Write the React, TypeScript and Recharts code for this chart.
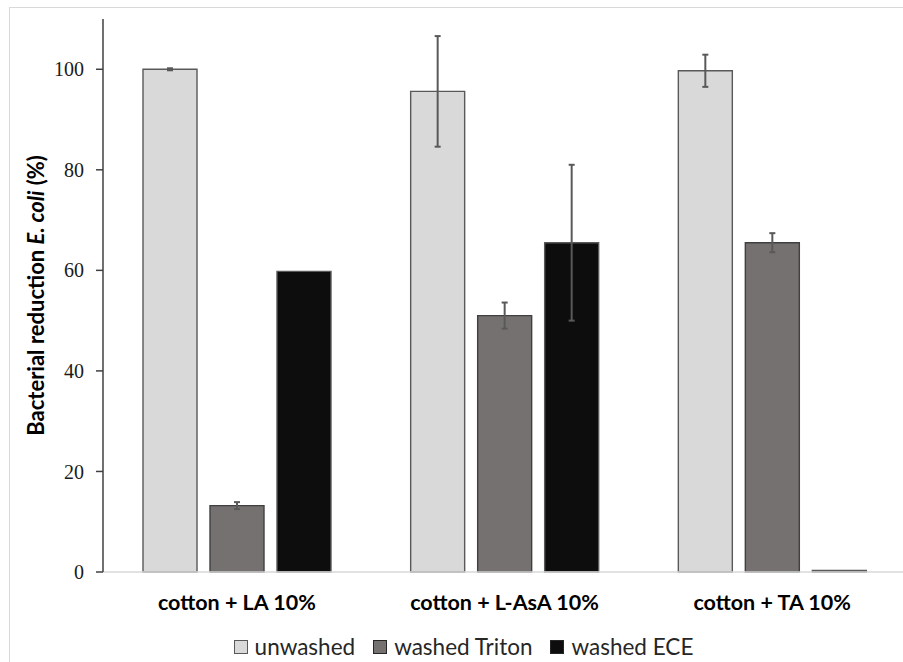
import React from 'react';
import { BarChart, Bar, XAxis, YAxis, ErrorBar, Legend } from 'recharts';

const categories = ['cotton + LA 10%', 'cotton + L-AsA 10%', 'cotton + TA 10%'];
const unwashed = [100, 95.6, 99.7];
const unwashedErr = [0.2, 11, 3.2];
const washedTriton = [13.2, 51, 65.5];
const washedTritonErr = [0.7, 2.6, 1.9];
const washedEce = [59.8, 65.5, 0.3];
const washedEceErr = [0, 15.5, 0];
const yTicks = [0, 20, 40, 60, 80, 100];

const series = [
  { key: 'unwashed', name: 'unwashed', fill: '#d9d9d9', stroke: '#595959', box: '#595959' },
  { key: 'triton', name: 'washed Triton', fill: '#767171', stroke: '#404040', box: '#262626' },
  { key: 'ece', name: 'washed ECE', fill: '#0d0d0d', stroke: '#595959', box: '#262626' },
];

const data = categories.map((name, i) => ({
  name,
  unwashed: unwashed[i],
  unwashedErr: unwashedErr[i],
  triton: washedTriton[i],
  tritonErr: washedTritonErr[i],
  ece: washedEce[i],
  eceErr: washedEceErr[i],
}));

const sans = 'Lato, "Open Sans", sans-serif';

const CategoryTick = (props: any) => {
  const { x, y, payload } = props;
  return (
    <text x={x} y={y + 30} textAnchor="middle" fontFamily={sans} fontWeight={700} fontSize={21.5} fill="#000">
      {payload.value}
    </text>
  );
};

const YLabel = (props: any) => {
  const vb = props.viewBox || {};
  const cx = 35;
  const cy = (vb.y ?? 19) + (vb.height ?? 553) / 2;
  return (
    <text
      x={cx}
      y={cy}
      transform={`rotate(-90, ${cx}, ${cy})`}
      textAnchor="middle"
      dominantBaseline="central"
      fontFamily={sans}
      fontWeight={700}
      fontSize={22}
      fill="#000"
    >
      <tspan>Bacterial reduction </tspan>
      <tspan fontStyle="italic">E. coli</tspan>
      <tspan> (%)</tspan>
    </text>
  );
};

const LegendBox = () => (
  <div
    style={{
      display: 'flex',
      justifyContent: 'center',
      alignItems: 'center',
      paddingLeft: 24,
      fontFamily: sans,
      fontSize: 22.5,
      color: '#262626',
    }}
  >
    {series.map((s) => (
      <div key={s.key} style={{ display: 'flex', alignItems: 'center', margin: '0 9px' }}>
        <span
          style={{
            display: 'inline-block',
            width: 12,
            height: 12,
            background: s.fill,
            border: `1px solid ${s.box}`,
            marginRight: 7,
          }}
        />
        <span>{s.name}</span>
      </div>
    ))}
  </div>
);

export default function App() {
  return (
    <div style={{ position: 'absolute', left: 0, top: 0, width: 903, height: 662, overflow: 'hidden', background: '#fff' }}>
      <div style={{ position: 'absolute', left: 9, top: 7, width: 1000, height: 1000, border: '1px solid #d9d9d9' }} />
      <BarChart
        width={903}
        height={662}
        data={data}
        margin={{ top: 19, right: -3, bottom: 60, left: 0 }}
        barSize={54}
        barGap={13}
        style={{ position: 'absolute', left: 0, top: 0 }}
      >
        <XAxis
          dataKey="name"
          height={30}
          axisLine={{ stroke: '#d9d9d9', strokeWidth: 1.5 }}
          tickLine={false}
          tick={<CategoryTick />}
          interval={0}
        />
        <YAxis
          width={103}
          domain={[0, 110]}
          ticks={yTicks}
          axisLine={{ stroke: '#404040', strokeWidth: 1.5 }}
          tickLine={{ stroke: '#404040', strokeWidth: 1.5 }}
          tickSize={7}
          tickMargin={12}
          tick={{ fontFamily: '"Liberation Serif", "Times New Roman", serif', fontSize: 20, fill: '#1a1a1a' }}
          label={<YLabel />}
        />
        <Legend
          layout="horizontal"
          verticalAlign="middle"
          align="center"
          content={<LegendBox />}
          wrapperStyle={{ top: 633, left: 0, width: 903, height: 28 }}
        />
        {series.map((s) => (
          <Bar
            key={s.key}
            dataKey={s.key}
            name={s.name}
            fill={s.fill}
            stroke={s.stroke}
            strokeWidth={1.4}
            isAnimationActive={false}
          >
            <ErrorBar dataKey={`${s.key}Err`} width={3} stroke="#595959" strokeWidth={2} direction="y" />
          </Bar>
        ))}
      </BarChart>
    </div>
  );
}
